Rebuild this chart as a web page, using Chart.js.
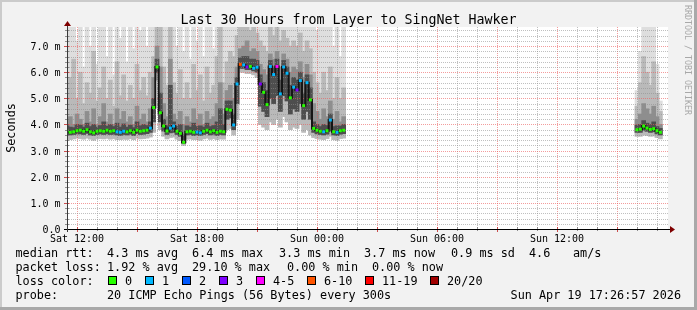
<!DOCTYPE html>
<html><head><meta charset="utf-8">
<script src="https://cdn.jsdelivr.net/npm/chart.js@4"></script>
<style>html,body{margin:0;padding:0;background:#f2f2f2;overflow:hidden}canvas{display:block}</style>
</head><body>
<canvas id="c" width="697" height="310"></canvas>
<script>
// ---------------- data ----------------
const titleText = 'Last 30 Hours from Layer to SingNet Hawker';
const yAxisTitle = 'Seconds';
const sampleStepMinutes = 10;            // spacing of samples
const segmentStarts = [0, 1710];         // minutes after Sat 11:30
const segmentLengths = [84, 8];
const xTickMinutes = [30, 390, 750, 1110, 1470];
const xTickLabels = ['Sat 12:00', 'Sat 18:00', 'Sun 00:00', 'Sun 06:00', 'Sun 12:00'];
const yTickValues = [0, 1, 2, 3, 4, 5, 6, 7];
const yTickLabels = ['0.0', '1.0 m', '2.0 m', '3.0 m', '4.0 m', '5.0 m', '6.0 m', '7.0 m'];

// median rtt (ms)
const median = [
 3.75,3.70,3.72,3.76,3.78,3.74,3.80,3.72,3.68,3.74,
 3.76,3.74,3.78,3.74,3.76,3.72,3.70,3.74,3.72,3.76,
 3.70,3.78,3.74,3.76,3.78,3.86,4.65,6.20,4.45,3.94,
 3.75,3.86,3.94,3.74,3.66,3.32,3.72,3.74,3.70,3.71,
 3.68,3.74,3.78,3.72,3.76,3.70,3.74,3.72,4.58,4.55,
 3.98,5.55,6.30,6.28,6.20,6.22,6.15,6.19,5.55,5.23,
 4.76,6.22,5.91,6.22,5.17,6.20,5.96,5.02,5.43,5.32,
 5.68,4.72,5.60,4.94,3.85,3.78,3.74,3.72,3.76,4.17,
 3.72,3.70,3.76,3.78,
 3.80,3.82,3.94,3.86,3.81,3.84,3.76,3.70];
// loss class per sample (index into lossLabels)
const lossClass = [
 0,0,0,0,0,0,0,0,0,0,
 0,0,0,0,0,1,1,1,0,0,
 0,0,0,0,0,1,0,0,0,0,
 0,1,1,0,0,0,0,0,0,1,
 1,0,0,0,0,0,0,0,0,0,
 1,1,5,1,3,0,1,1,3,0,
 0,1,1,4,1,1,1,0,1,3,
 1,0,1,0,0,0,0,1,0,1,
 0,1,0,0,
 0,0,0,0,0,0,0,0];
// smoke: ping distribution per sample (ms)
const pingMin = [
 3.45,3.42,3.45,3.48,3.46,3.44,3.48,3.44,3.40,3.45,
 3.46,3.45,3.47,3.44,3.46,3.42,3.42,3.44,3.43,3.46,
 3.42,3.48,3.45,3.46,3.48,3.52,3.70,5.70,3.80,3.55,
 3.45,3.50,3.52,3.44,3.38,3.20,3.44,3.45,3.42,3.42,
 3.40,3.45,3.48,3.43,3.46,3.42,3.45,3.44,3.80,3.85,
 3.60,4.20,6.00,6.00,5.95,5.95,5.90,5.80,4.00,3.90,
 3.80,4.10,4.00,4.20,3.90,4.30,4.10,3.80,3.90,3.85,
 4.00,3.70,3.80,3.60,3.50,3.46,3.44,3.42,3.46,3.55,
 3.42,3.40,3.46,3.48,
 3.55,3.55,3.60,3.58,3.55,3.56,3.50,3.45];
const pingLow = [
 3.62,3.60,3.62,3.64,3.64,3.62,3.66,3.60,3.58,3.62,
 3.64,3.62,3.64,3.62,3.63,3.60,3.58,3.62,3.60,3.63,
 3.58,3.65,3.62,3.63,3.65,3.70,4.10,6.00,4.10,3.75,
 3.62,3.68,3.70,3.62,3.55,3.28,3.60,3.62,3.58,3.60,
 3.58,3.62,3.65,3.60,3.63,3.58,3.62,3.60,4.20,4.25,
 3.80,4.80,6.15,6.15,6.10,6.10,6.05,6.00,4.70,4.50,
 4.30,5.00,4.80,5.10,4.50,5.10,4.90,4.40,4.60,4.50,
 4.80,4.20,4.50,4.20,3.70,3.64,3.62,3.60,3.63,3.75,
 3.60,3.58,3.63,3.65,
 3.70,3.70,3.78,3.74,3.70,3.72,3.64,3.60];
const pingP60 = [
 3.95,3.90,3.88,4.00,3.98,3.90,4.05,3.92,4.00,3.90,
 3.96,4.10,3.94,4.00,3.92,4.05,3.90,4.02,3.90,3.98,
 3.88,4.10,3.95,4.00,3.96,4.10,5.00,6.50,5.20,4.20,
 3.95,5.50,4.10,3.92,4.00,3.60,3.95,3.90,4.05,3.92,
 3.95,3.90,4.05,3.92,3.96,4.10,4.60,4.00,4.90,4.90,
 4.40,5.80,6.55,6.60,6.60,6.50,6.50,6.45,5.90,5.60,
 5.30,6.45,6.20,6.50,5.70,6.45,6.20,5.50,5.80,5.70,
 6.00,5.20,5.90,5.40,4.10,4.00,3.92,4.00,3.96,4.40,
 3.92,3.95,3.94,4.00,
 3.98,4.00,4.15,4.05,4.00,4.10,3.92,3.85];
const pingP75 = [
 4.1,4.3,4.0,4.4,4.2,4.0,4.5,4.1,4.6,4.0,
 4.3,4.8,4.1,4.4,4.0,4.6,4.2,4.5,4.1,4.3,
 4.0,4.7,4.2,4.4,4.1,4.6,5.8,7.0,6.2,4.8,
 4.3,6.5,4.4,4.2,4.5,4.0,4.3,4.1,4.6,4.2,
 4.4,4.0,4.5,4.2,4.3,4.8,5.6,4.4,5.3,5.5,
 5.0,6.2,6.9,7.0,7.2,6.8,6.9,6.8,6.3,6.1,
 5.9,6.7,6.5,6.8,6.2,6.7,6.5,6.0,6.2,6.1,
 6.4,5.8,6.3,5.9,4.8,4.5,4.2,4.6,4.3,4.9,
 4.2,4.5,4.1,4.3,
 4.2,4.4,4.8,4.6,4.4,4.7,4.3,4.0];
const pingP90 = [
 5.2,5.8,6.5,5.0,6.0,4.8,5.6,5.2,6.8,4.9,
 5.4,6.2,5.0,5.7,4.7,6.4,5.1,5.9,4.9,5.5,
 5.0,6.3,5.3,5.8,5.1,6.0,6.6,9.0,9.0,6.2,
 5.5,9.0,5.6,5.2,6.1,5.0,5.6,5.0,6.3,5.3,
 5.9,4.9,6.2,5.2,5.5,6.6,9.0,5.6,6.4,6.8,
 6.6,7.4,7.8,9.0,9.0,7.6,8.0,7.5,7.2,7.0,
 6.8,7.8,7.4,9.0,7.2,7.6,7.3,7.0,7.2,7.0,
 7.5,6.8,7.2,6.9,6.0,5.6,5.2,6.0,5.3,6.2,
 5.0,5.8,5.0,5.4,
 4.7,5.6,6.6,6.0,5.5,6.4,5.2,4.5];
const pingMax = [
 6.8,8.0,9.0,7.2,8.5,6.2,9.0,7.0,9.0,6.3,
 8.2,9.0,6.6,8.8,5.9,9.0,7.3,9.0,6.4,8.4,
 6.9,9.0,7.6,9.0,7.0,8.6,9.0,9.0,9.0,8.0,
 9.0,9.0,9.0,7.0,9.0,6.8,8.2,6.5,9.0,7.2,
 9.0,6.6,9.0,7.8,6.9,9.0,9.0,8.0,9.0,9.0,
 9.0,9.0,9.0,9.0,9.0,9.0,9.0,9.0,9.0,9.0,
 9.0,9.0,9.0,9.0,9.0,9.0,9.0,9.0,8.5,9.0,
 9.0,9.0,9.0,8.4,9.0,7.6,9.0,8.0,9.0,9.0,
 7.0,9.0,6.6,8.0,
 5.3,6.8,9.0,9.0,9.0,9.0,6.3,4.9];

const lossLabels = ['0', '1', '2', '3', '4-5', '6-10', '11-19', '20/20'];
const lossColors = ['#26ff00', '#00b8ff', '#0059ff', '#7e00ff', '#ff00ff', '#ff5500', '#ff0000', '#a10000'];
const rttStats = ['4.3 ms avg', '6.4 ms max', '3.3 ms min', '3.7 ms now', '0.9 ms sd', '4.6', 'am/s'];
const lossStats = ['1.92 % avg', '29.10 % max', '0.00 % min', '0.00 % now'];
const probeText = '20 ICMP Echo Pings (56 Bytes) every 300s';
const stampText = 'Sun Apr 19 17:26:57 2026';
const watermark = 'RRDTOOL / TOBI OETIKER';

// ---------------- build ----------------
const times = [];
segmentStarts.forEach((s, k) => { for (let j = 0; j < segmentLengths[k]; j++) times.push(s + j * sampleStepMinutes); });
const bars = (lo, hi) => times.map((t, i) => ({ x: t, y: [lo[i], hi[i]] }));
const medLine = [];
times.forEach((t, i) => {
  if (i === segmentLengths[0]) medLine.push({ x: t - sampleStepMinutes / 2, y: null });
  medLine.push({ x: t, y: median[i] });
});
const medPts = times.map((t, i) => ({ x: t, y: median[i] }));

const MONO = '"DejaVu Sans Mono", "Liberation Mono", monospace';

function dotted(ctx, x1, y1, x2, y2, color) {
  ctx.save(); ctx.strokeStyle = color; ctx.lineWidth = 1; ctx.setLineDash([1, 1]);
  ctx.beginPath(); ctx.moveTo(x1, y1); ctx.lineTo(x2, y2); ctx.stroke(); ctx.restore();
}

const rrdPlugin = {
  id: 'rrd',
  beforeDraw(chart) {
    const ctx = chart.ctx, a = chart.chartArea, W = chart.width, H = chart.height;
    ctx.save();
    ctx.fillStyle = '#f2f2f2'; ctx.fillRect(0, 0, W, H);
    ctx.fillStyle = '#cbcbcb'; ctx.fillRect(0, 0, W, 2); ctx.fillRect(0, 0, 2, H);
    ctx.fillStyle = '#a9a9a9'; ctx.fillRect(W - 3, 0, 3, H); ctx.fillRect(0, H - 3, W, 3);
    ctx.fillStyle = '#ffffff'; ctx.fillRect(a.left, a.top, a.right - a.left + 1, a.bottom - a.top);
    ctx.restore();
  },
  afterDatasetDraw(chart, args) {
    if (args.index !== 2) return;
    const ctx = chart.ctx, a = chart.chartArea, xs = chart.scales.x, ys = chart.scales.y;
    const minor = 'rgba(140,140,140,0.55)', major = 'rgba(235,90,90,0.6)';
    for (let m = 30; m < xs.max; m += 60) {
      const px = Math.round(xs.getPixelForValue(m)) + 0.5;
      dotted(ctx, px, a.top, px, a.bottom, (m - 30) % 180 === 0 ? major : minor);
    }
    for (let k = 1; k < 39; k++) {
      const py = Math.round(ys.getPixelForValue(k / 5)) + 0.5;
      dotted(ctx, a.left, py, a.right + 1, py, k % 5 === 0 ? major : minor);
    }
  },
  afterDraw(chart) {
    const ctx = chart.ctx, a = chart.chartArea, xs = chart.scales.x, ys = chart.scales.y;
    const W = chart.width;
    ctx.save();
    // ticks on axes
    ctx.lineWidth = 1;
    for (let m = 30; m < xs.max; m += 60) {
      const px = Math.round(xs.getPixelForValue(m)) + 0.5;
      const maj = (m - 30) % 180 === 0;
      ctx.strokeStyle = maj ? 'rgba(200,60,60,0.9)' : 'rgba(120,120,120,0.8)';
      ctx.beginPath(); ctx.moveTo(px, a.bottom - 2); ctx.lineTo(px, a.bottom + (maj ? 3 : 2)); ctx.stroke();
    }
    for (let k = 1; k < 39; k++) {
      const py = Math.round(ys.getPixelForValue(k / 5)) + 0.5;
      const maj = k % 5 === 0;
      ctx.strokeStyle = maj ? 'rgba(200,60,60,0.9)' : 'rgba(120,120,120,0.8)';
      ctx.beginPath(); ctx.moveTo(a.left - (maj ? 3 : 2), py); ctx.lineTo(a.left + 2, py); ctx.stroke();
    }
    // axes
    const ax = Math.round(a.left) + 0.5, ay = Math.round(a.bottom) + 0.5;
    ctx.strokeStyle = '#000'; ctx.beginPath(); ctx.moveTo(a.left - 3, ay); ctx.lineTo(a.right + 3, ay); ctx.stroke();
    ctx.strokeStyle = '#3a3a3a'; ctx.beginPath(); ctx.moveTo(ax, a.bottom + 3); ctx.lineTo(ax, a.top - 2); ctx.stroke();
    ctx.fillStyle = '#7f0000';
    ctx.beginPath(); ctx.moveTo(a.right + 3, ay - 3.5); ctx.lineTo(a.right + 8, ay); ctx.lineTo(a.right + 3, ay + 3.5); ctx.closePath(); ctx.fill();
    ctx.beginPath(); ctx.moveTo(ax - 3.5, a.top - 1); ctx.lineTo(ax, a.top - 6); ctx.lineTo(ax + 3.5, a.top - 1); ctx.closePath(); ctx.fill();
    // tick labels
    ctx.fillStyle = '#000';
    ctx.font = '10px ' + MONO;
    ctx.textBaseline = 'alphabetic';
    ctx.textAlign = 'center';
    xTickMinutes.forEach((m, i) => ctx.fillText(xTickLabels[i], xs.getPixelForValue(m), a.bottom + 13));
    ctx.textAlign = 'right';
    yTickValues.forEach((v, i) => ctx.fillText(yTickLabels[i], a.left - 6.5, Math.round(ys.getPixelForValue(v)) + 4));
    // title
    ctx.font = '13.3px ' + MONO; ctx.textAlign = 'center';
    ctx.fillText(titleText, W / 2, 24);
    // y title
    ctx.save(); ctx.font = '11.8px ' + MONO; ctx.translate(15, (a.top + a.bottom) / 2); ctx.rotate(-Math.PI / 2);
    ctx.textAlign = 'center'; ctx.fillText(yAxisTitle, 0, 0); ctx.restore();
    // watermark
    ctx.save(); ctx.font = '8.3px ' + MONO; ctx.fillStyle = '#a8a8a8'; ctx.translate(685, 5); ctx.rotate(Math.PI / 2);
    ctx.textAlign = 'left'; ctx.fillText(watermark, 0, 0); ctx.restore();
    // legend
    ctx.font = '11.8px ' + MONO; ctx.textAlign = 'left'; ctx.fillStyle = '#000';
    const L = 15.5, rows = [257, 271, 285, 299];
    ctx.fillText('median rtt:', L, rows[0]);
    [107, 192, 279, 364, 451, 529, 573].forEach((x, i) => ctx.fillText(rttStats[i], x, rows[0]));
    ctx.fillText('packet loss:', L, rows[1]);
    [107, 192, 287, 372].forEach((x, i) => ctx.fillText(lossStats[i], x, rows[1]));
    ctx.fillText('loss color:', L, rows[2]);
    [108, 145, 182, 219, 256, 307, 365, 430].forEach((x, i) => {
      ctx.fillStyle = lossColors[i]; ctx.fillRect(x, rows[2] - 9, 8, 8);
      ctx.strokeStyle = '#000'; ctx.lineWidth = 1; ctx.strokeRect(x + 0.5, rows[2] - 8.5, 8, 8);
      ctx.fillStyle = '#000'; ctx.fillText(lossLabels[i], x + 17, rows[2]);
    });
    ctx.fillText('probe:', L, rows[3]);
    ctx.fillText(probeText, 107, rows[3]);
    ctx.textAlign = 'right'; ctx.fillText(stampText, 681, rows[3]);
    ctx.restore();
  }
};

new Chart(document.getElementById('c'), {
  type: 'bar',
  data: {
    datasets: [
      { type: 'line', data: medPts, showLine: false, pointStyle: 'rect', pointRadius: 2.1,
        pointBackgroundColor: lossClass.map(k => lossColors[k]), pointBorderWidth: 0, order: 0 },
      { type: 'line', data: medLine, stepped: 'middle', borderColor: '#151515', borderWidth: 2,
        pointRadius: 0, spanGaps: false, fill: false, order: 1 },
      { type: 'bar', data: bars(pingLow, pingP60), backgroundColor: '#4e4e4e', order: 2 },
      { type: 'bar', data: bars(pingLow, pingP75), backgroundColor: '#8e8e8e', order: 3 },
      { type: 'bar', data: bars(pingMin, pingP90), backgroundColor: '#bababa', order: 4 },
      { type: 'bar', data: bars(pingMin, pingMax), backgroundColor: '#dedede', order: 5 }
    ]
  },
  options: {
    responsive: false, animation: false, events: [],
    devicePixelRatio: 1,
    layout: { padding: { left: 67, right: 30, top: 27, bottom: 81 } },
    plugins: { legend: { display: false }, tooltip: { enabled: false }, title: { display: false } },
    datasets: { bar: { barThickness: 4, borderWidth: 0, borderSkipped: false, grouped: false } },
    scales: {
      x: { type: 'linear', min: 0, max: 1800, display: false, offset: false },
      y: { type: 'linear', min: 0, max: 7.73, display: false }
    }
  },
  plugins: [rrdPlugin]
});
</script>
</body></html>
